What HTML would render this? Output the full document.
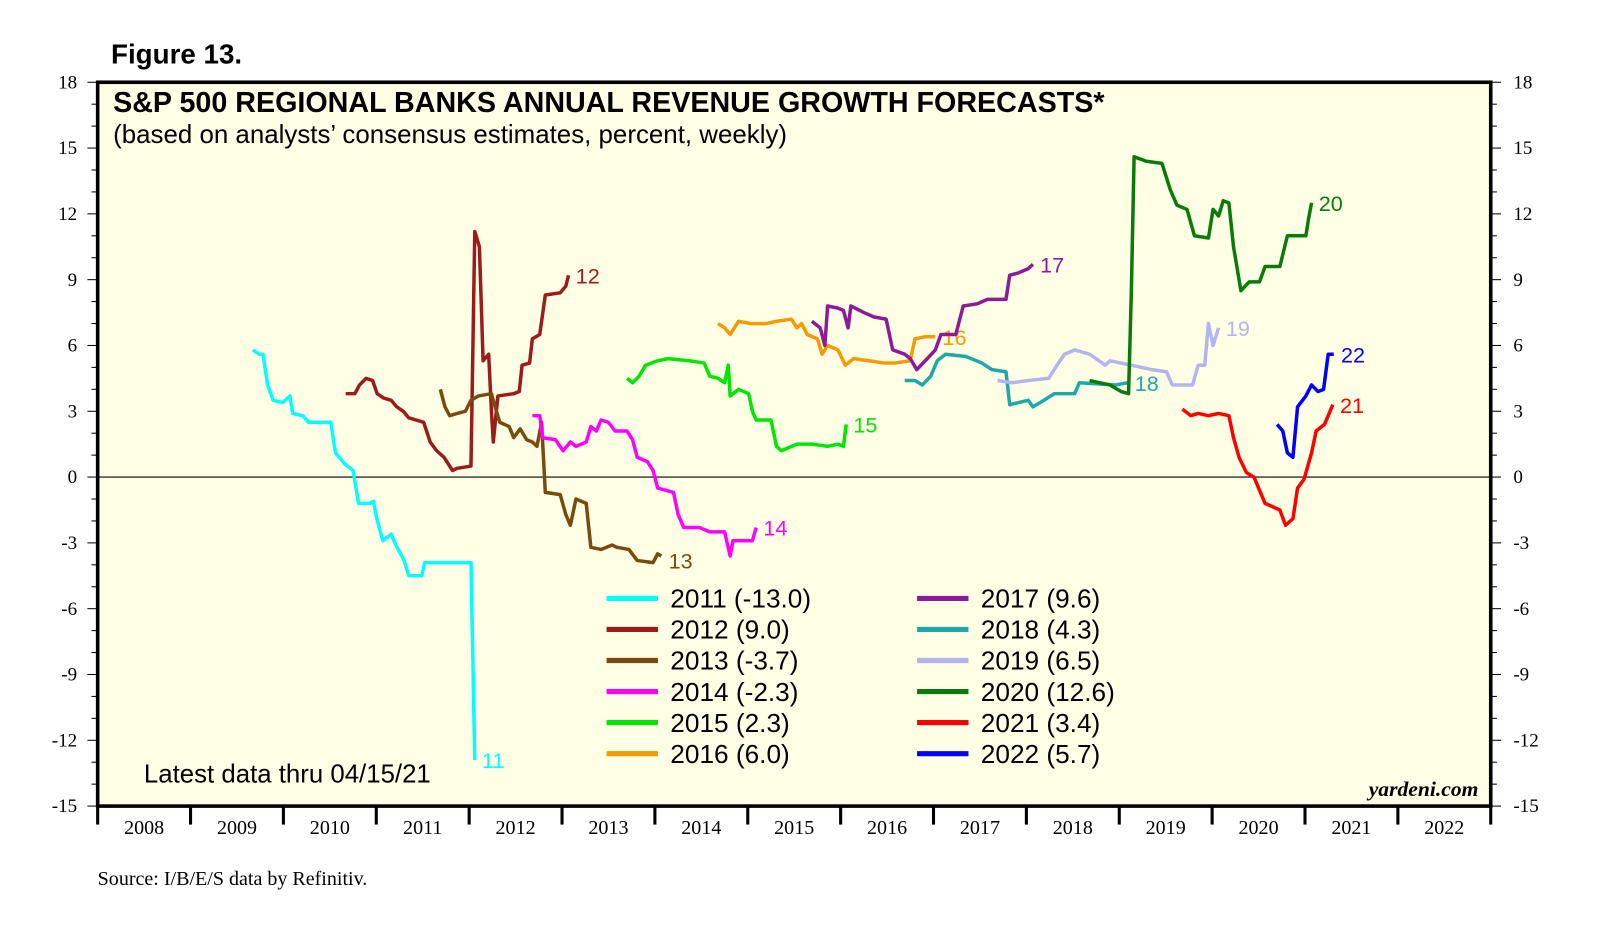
<!DOCTYPE html>
<html><head><meta charset="utf-8"><style>
html,body{margin:0;padding:0;background:#fff;}
svg{display:block;}
</style></head><body>
<svg id="chart" width="1610" height="949" viewBox="0 0 1566 923" preserveAspectRatio="none" xmlns="http://www.w3.org/2000/svg">
<text x="108" y="62" font-family="Liberation Sans, sans-serif" font-weight="bold" font-size="27">Figure 13.</text>
<rect x="95" y="80" width="1355" height="704" fill="#ffffe6" stroke="#000" stroke-width="3.5"/>
<text x="110" y="109" font-family="Liberation Sans, sans-serif" font-weight="bold" font-size="27.9">S&amp;P 500 REGIONAL BANKS ANNUAL REVENUE GROWTH FORECASTS*</text>
<text x="110" y="139" font-family="Liberation Sans, sans-serif" font-size="25.2">(based on analysts’ consensus estimates, percent, weekly)</text>
<line x1="95" y1="464" x2="1450" y2="464" stroke="#000" stroke-width="1"/>
<g id="axes"></g>
<g id="series"></g>
<g id="legend"></g>
<text x="140" y="761" font-family="Liberation Sans, sans-serif" font-size="25.1">Latest data thru 04/15/21</text>
<text x="1438" y="774" text-anchor="end" font-family="Liberation Serif, serif" font-style="italic" font-weight="bold" font-size="21">yardeni.com</text>
<text x="95" y="861" font-family="Liberation Serif, serif" font-size="19.5">Source: I/B/E/S data by Refinitiv.</text>
</svg>
<script>
const yTicks = [18,15,12,9,6,3,0,-3,-6,-9,-12,-15];
const xYears = [2008,2009,2010,2011,2012,2013,2014,2015,2016,2017,2018,2019,2020,2021,2022];
const names = ["2011","2012","2013","2014","2015","2016","2017","2018","2019","2020","2021","2022"];
const finals = ["-13.0","9.0","-3.7","-2.3","2.3","6.0","9.6","4.3","6.5","12.6","3.4","5.7"];
const colors = ["#00ffff","#9b1c1c","#7a4a0e","#ff00ff","#00e600","#f59a00","#8c1a99","#1ea8a8","#b4b4f0","#0a7a0a","#ff0000","#0000ff"];
const endLabels = ["11","12","13","14","15","16","17","18","19","20","21","22"];
const s2011x=[2009.67,2009.74,2009.78,2009.83,2009.89,2009.99,2010.07,2010.10,2010.21,2010.27,2010.51,2010.56,2010.66,2010.75,2010.81,2010.93,2010.97,2011.00,2011.07,2011.16,2011.21,2011.30,2011.35,2011.49,2011.52,2011.87,2012.02,2012.06];
const s2011y=[5.8,5.6,5.6,4.2,3.5,3.4,3.7,2.9,2.8,2.5,2.5,1.1,0.6,0.3,-1.2,-1.2,-1.1,-1.8,-2.9,-2.6,-3.1,-3.8,-4.5,-4.5,-3.9,-3.9,-3.9,-12.9];
const s2012x=[2010.67,2010.77,2010.82,2010.89,2010.96,2011.01,2011.08,2011.16,2011.22,2011.29,2011.35,2011.51,2011.58,2011.65,2011.73,2011.82,2011.87,2012.02,2012.06,2012.11,2012.15,2012.21,2012.24,2012.26,2012.31,2012.48,2012.54,2012.57,2012.65,2012.68,2012.76,2012.82,2012.98,2013.04,2013.07];
const s2012y=[3.8,3.8,4.2,4.5,4.4,3.8,3.6,3.5,3.2,3.0,2.7,2.5,1.6,1.2,0.9,0.3,0.4,0.5,11.2,10.5,5.3,5.6,3.0,1.6,3.7,3.8,3.9,5.1,5.2,6.3,6.5,8.3,8.4,8.7,9.2];
const s2013x=[2011.69,2011.74,2011.79,2011.87,2011.96,2012.02,2012.10,2012.24,2012.28,2012.33,2012.43,2012.48,2012.55,2012.62,2012.68,2012.73,2012.78,2012.82,2012.98,2013.04,2013.09,2013.15,2013.26,2013.31,2013.42,2013.54,2013.59,2013.72,2013.81,2013.98,2014.03,2014.07];
const s2013y=[4.0,3.2,2.8,2.9,3.0,3.5,3.7,3.8,3.2,2.5,2.3,1.8,2.2,1.7,1.6,1.4,2.5,-0.7,-0.8,-1.7,-2.2,-1.0,-1.2,-3.2,-3.3,-3.1,-3.2,-3.3,-3.8,-3.9,-3.5,-3.6];
const s2014x=[2012.68,2012.76,2012.79,2012.93,2013.01,2013.09,2013.15,2013.26,2013.31,2013.37,2013.42,2013.50,2013.57,2013.70,2013.76,2013.81,2013.92,2013.98,2014.03,2014.20,2014.25,2014.31,2014.48,2014.59,2014.75,2014.81,2014.84,2014.97,2015.05,2015.09];
const s2014y=[2.8,2.8,1.8,1.7,1.2,1.6,1.4,1.6,2.3,2.1,2.6,2.5,2.1,2.1,1.7,0.9,0.7,0.3,-0.5,-0.7,-1.7,-2.3,-2.3,-2.5,-2.5,-3.6,-2.9,-2.9,-2.9,-2.3];
const s2015x=[2013.70,2013.76,2013.83,2013.90,2014.03,2014.14,2014.37,2014.53,2014.59,2014.68,2014.75,2014.79,2014.81,2014.90,2015.01,2015.05,2015.09,2015.25,2015.31,2015.36,2015.53,2015.69,2015.86,2015.97,2016.03,2016.06];
const s2015y=[4.5,4.3,4.6,5.1,5.3,5.4,5.3,5.2,4.6,4.5,4.3,5.1,3.7,4.0,3.8,3.0,2.6,2.6,1.4,1.2,1.5,1.5,1.4,1.5,1.4,2.4];
const s2016x=[2014.68,2014.75,2014.81,2014.90,2015.03,2015.20,2015.31,2015.47,2015.53,2015.58,2015.64,2015.75,2015.80,2015.86,2015.97,2016.05,2016.14,2016.30,2016.47,2016.58,2016.75,2016.80,2016.91,2017.02];
const s2016y=[7.0,6.8,6.5,7.1,7.0,7.0,7.1,7.2,6.8,7.0,6.5,6.3,5.6,6.0,5.8,5.1,5.4,5.3,5.2,5.2,5.3,6.3,6.4,6.4];
const s2017x=[2015.69,2015.78,2015.83,2015.86,2015.97,2016.03,2016.08,2016.11,2016.25,2016.36,2016.49,2016.56,2016.69,2016.75,2016.82,2016.91,2017.02,2017.08,2017.24,2017.32,2017.47,2017.58,2017.78,2017.82,2017.91,2018.02,2018.07];
const s2017y=[7.1,6.8,6.0,7.8,7.7,7.6,6.8,7.8,7.5,7.3,7.2,5.8,5.6,5.4,4.9,5.3,5.8,6.5,6.5,7.8,7.9,8.1,8.1,9.2,9.3,9.5,9.7];
const s2018x=[2016.69,2016.80,2016.88,2016.97,2017.04,2017.13,2017.35,2017.52,2017.63,2017.78,2017.82,2018.02,2018.07,2018.19,2018.30,2018.52,2018.57,2018.96,2019.09];
const s2018y=[4.4,4.4,4.2,4.6,5.3,5.6,5.5,5.2,4.9,4.8,3.3,3.5,3.2,3.5,3.8,3.8,4.3,4.2,4.3];
const s2019x=[2017.69,2017.85,2018.02,2018.24,2018.33,2018.41,2018.52,2018.68,2018.85,2018.90,2019.13,2019.35,2019.51,2019.57,2019.79,2019.85,2019.92,2019.96,2020.01,2020.07];
const s2019y=[4.4,4.3,4.4,4.5,5.1,5.6,5.8,5.6,5.1,5.3,5.1,4.9,4.8,4.2,4.2,5.1,5.1,7.0,6.0,6.8];
const s2020x=[2018.68,2018.90,2019.02,2019.10,2019.13,2019.16,2019.29,2019.46,2019.55,2019.62,2019.73,2019.81,2019.96,2020.01,2020.07,2020.12,2020.18,2020.23,2020.31,2020.40,2020.51,2020.57,2020.73,2020.81,2021.01,2021.04,2021.07];
const s2020y=[4.4,4.2,3.9,3.8,8.4,14.6,14.4,14.3,13.1,12.4,12.2,11.0,10.9,12.2,11.9,12.6,12.5,10.5,8.5,8.9,8.9,9.6,9.6,11.0,11.0,11.8,12.5];
const s2021x=[2019.68,2019.77,2019.85,2019.96,2020.07,2020.18,2020.23,2020.29,2020.37,2020.45,2020.57,2020.73,2020.79,2020.87,2020.92,2020.99,2021.07,2021.12,2021.21,2021.30];
const s2021y=[3.1,2.8,2.9,2.8,2.9,2.8,1.8,0.9,0.2,0.0,-1.2,-1.5,-2.2,-1.9,-0.5,-0.1,1.1,2.1,2.4,3.3];
const s2022x=[2020.70,2020.76,2020.81,2020.87,2020.92,2021.01,2021.07,2021.14,2021.20,2021.25,2021.31];
const s2022y=[2.4,2.1,1.1,0.9,3.2,3.7,4.2,3.9,4.0,5.6,5.6];
const seriesX=[s2011x,s2012x,s2013x,s2014x,s2015x,s2016x,s2017x,s2018x,s2019x,s2020x,s2021x,s2022x];
const seriesY=[s2011y,s2012y,s2013y,s2014y,s2015y,s2016y,s2017y,s2018y,s2019y,s2020y,s2021y,s2022y];

const NS="http://www.w3.org/2000/svg";
const L=95,R=1450,T=80,B=784;
function xs(v){return L+(v-2008)*(R-L)/15;}
function ys(v){return T+(18-v)*(B-T)/33;}
function mk(tag,attrs,parent,text){const e=document.createElementNS(NS,tag);for(const k in attrs)e.setAttribute(k,attrs[k]);if(text!==undefined)e.textContent=text;parent.appendChild(e);return e;}
const ax=document.getElementById('axes');
for(let v=-15;v<=18;v++){
  const y=ys(v);const major=v%3===0;const len=major?10:6;
  const t1=mk('line',{x1:L-len,y1:y,x2:L,y2:y,stroke:'#000','stroke-width':1},ax);
  
  
  const t2=mk('line',{x1:R,y1:y,x2:R+len,y2:y,stroke:'#000','stroke-width':1},ax);
  
  
}
yTicks.forEach(v=>{
  const a=mk('text',{x:L-20,y:ys(v)+6,'text-anchor':'end','font-family':'Liberation Serif, serif','font-size':18.5},ax,String(v));
  
  
  const b=mk('text',{x:R+22,y:ys(v)+6,'text-anchor':'start','font-family':'Liberation Serif, serif','font-size':18.5},ax,String(v));
  
  
});
for(let yr=2008;yr<=2023;yr++){
  const t=mk('line',{x1:xs(yr),y1:B,x2:xs(yr),y2:B+18,stroke:'#000','stroke-width':3},ax);
  
  
}
xYears.forEach(yr=>{
  const t=mk('text',{x:xs(yr+0.5),y:B+27,'text-anchor':'middle','font-family':'Liberation Serif, serif','font-size':19.5},ax,String(yr));
  
  
});
const sg=document.getElementById('series');
seriesX.forEach((xsArr,i)=>{
  const ysArr=seriesY[i];
  let d='';
  xsArr.forEach((x,j)=>{d+=(j?'L':'M')+xs(x).toFixed(1)+','+ys(ysArr[j]).toFixed(1);});
  const p=mk('path',{d:d,fill:'none',stroke:colors[i],'stroke-width':3.4,'stroke-linejoin':'round'},sg);
  
  
  const n=xsArr.length;
  let lx=xs(xsArr[n-1])+7, ly=ys(ysArr[n-1])+8;
  if(i===2){ly+=4;}
  const t=mk('text',{x:lx,y:ly,'font-family':'Liberation Sans, sans-serif','font-size':21,fill:colors[i]},sg,endLabels[i]);
  
  
});
const lg=document.getElementById('legend');
names.forEach((nm,i)=>{
  const col=i<6?0:1,row=i%6;
  const x0=col?892:590,y0=582+row*30.2;
  const sw=mk('line',{x1:x0,y1:y0,x2:x0+50,y2:y0,stroke:colors[i],'stroke-width':5},lg);
  
  
  const t=mk('text',{x:x0+62,y:y0+9,'font-family':'Liberation Sans, sans-serif','font-size':25.5},lg,nm+' ('+finals[i]+')');
  
  
});
</script>
</body></html>
